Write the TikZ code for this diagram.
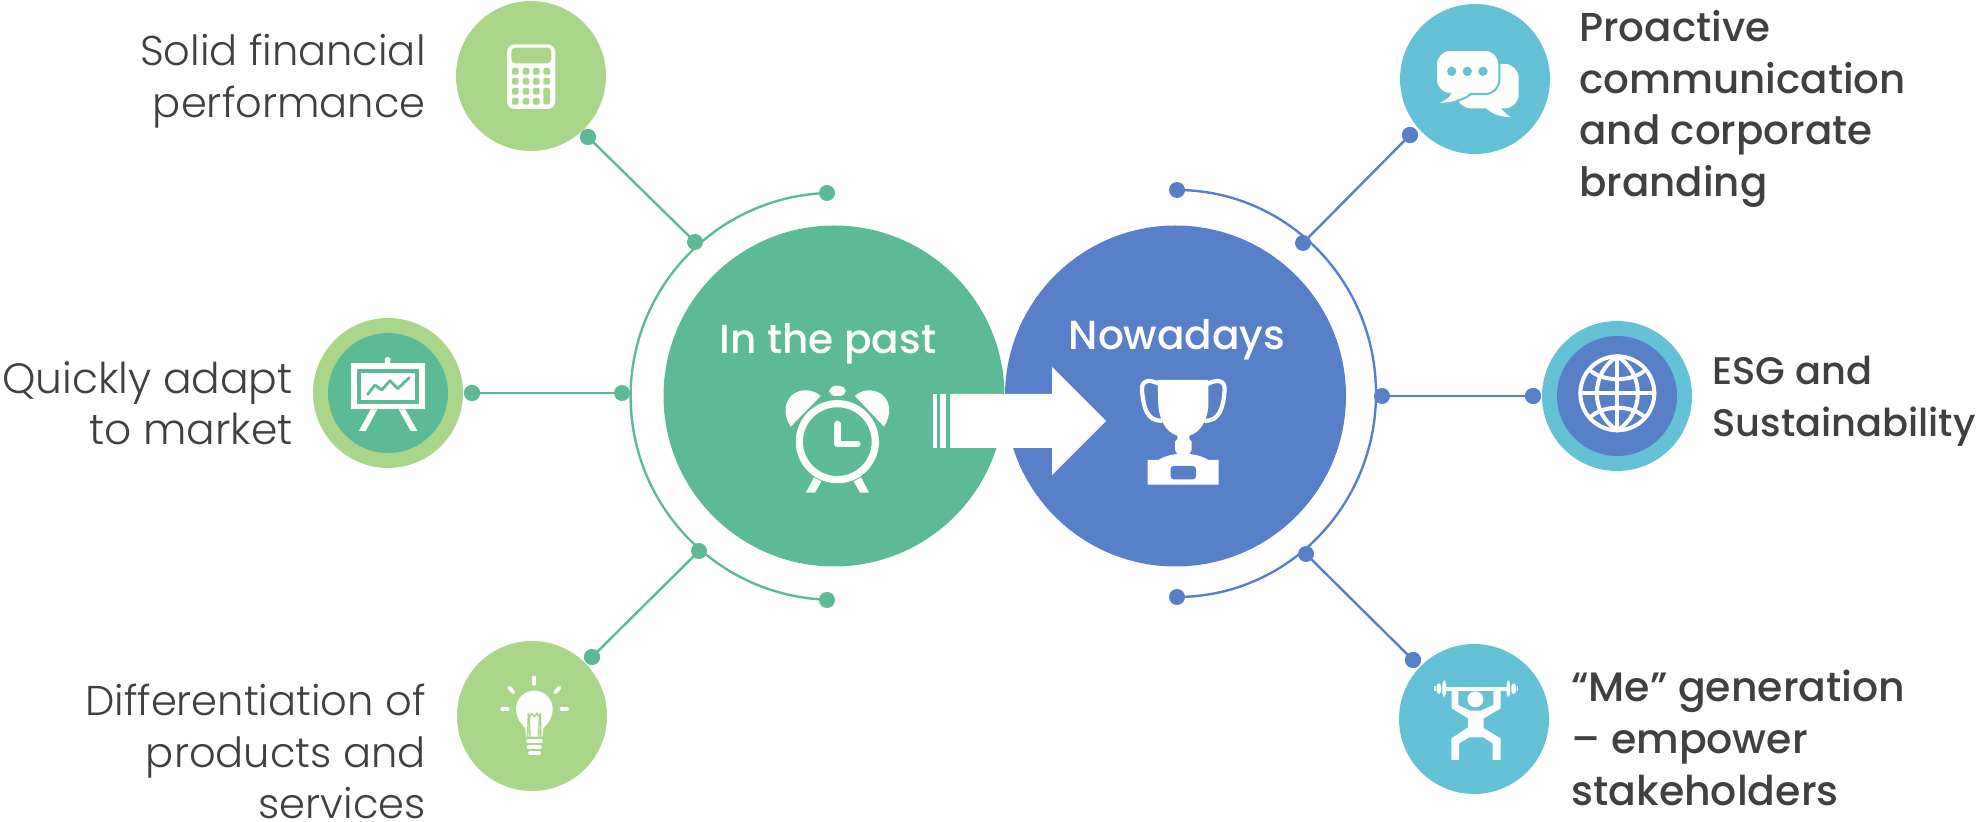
\documentclass[tikz,border=0pt]{standalone}
\usepackage{fontspec}
\setmainfont{Poppins}
\newfontfamily\lightf{Poppins}[UprightFont=* Light]
\newfontfamily\semif{Poppins}[UprightFont=* Medium]
\definecolor{cgreen}{HTML}{5DBA96}
\definecolor{clight}{HTML}{A9D688}
\definecolor{cblue}{HTML}{5880C9}
\definecolor{cteal}{HTML}{65C1D5}
\definecolor{ctext}{HTML}{404040}
\tikzset{
  big/.style={circle,inner sep=0,outer sep=0,minimum size=170.5pt,fill=#1},
  small/.style={circle,inner sep=0,outer sep=0,minimum size=75pt,fill=#1},
  inner/.style={circle,inner sep=0,outer sep=0,minimum size=60pt,fill=#1},
  dot/.style={circle,inner sep=0,outer sep=0,minimum size=8pt,fill=#1},
  link/.style={draw=#1,line width=1.2pt},
  leftlabel/.style={anchor=north east,align=right,text=ctext,inner sep=0,font=\lightf\fontsize{20.8}{25.7}\selectfont},
  rightlabel/.style={anchor=north west,align=left,text=ctext,inner sep=0,font=\semif\fontsize{20.2}{25.8}\selectfont},
  bigtext/.style={text=white,inner sep=0,font=\semif\fontsize{20.3}{25}\selectfont},
  ico/.style={line width=#1,draw=white,line cap=round,line join=round},
}
\begin{document}
\begin{tikzpicture}[x=0.5pt,y=-0.5pt]
\useasboundingbox (0,0) rectangle (1982,822);
% main circles
\node[big=cgreen] (past) at (834,396) {};
\node[big=cblue] (now) at (1175.5,396) {};
% dots
\foreach \n/\p in {ga/{588,137},gb/{695,242},gc/{472,393},gd/{622,393},ge/{592,657},gf/{699,551},gt/{827,193},gu/{827,600}}
  \node[dot=cgreen] (\n) at (\p) {};
\foreach \n/\p in {ba/{1410,135},bb/{1303,243},bc/{1382,396},bd/{1533,396},be/{1413,660},bf/{1306,554},bt/{1177,190},bu/{1177,597}}
  \node[dot=cblue] (\n) at (\p) {};
% arcs
\draw[link=cgreen] (gt.center) arc[start angle=268,end angle=92,radius=203.5];
\draw[link=cblue] (bt.center) arc[start angle=-90,end angle=90,x radius=199,y radius=203.5];
% links
\draw[link=cgreen] (ga) -- (gb);
\draw[link=cgreen] (gc) -- (gd);
\draw[link=cgreen] (ge) -- (gf);
\draw[link=cblue] (ba) -- (bb);
\draw[link=cblue] (bc) -- (bd);
\draw[link=cblue] (be) -- (bf);
% satellites
\node[small=clight] (s1) at (531,76) {};
\node[small=clight] (s2) at (388,393) {};
\node[inner=cgreen] (s2i) at (388,393) {};
\node[small=clight] (s3) at (532,716) {};
\node[small=cteal] (s4) at (1475,79) {};
\node[small=cteal] (s5) at (1617,396) {};
\node[inner=cblue] (s5i) at (1617,396) {};
\node[small=cteal] (s6) at (1474,719) {};
% redraw the dots above satellites
\foreach \n/\p in {ga/{588,137},gc/{472,393},ge/{592,657}} \fill[cgreen] (\p) circle (8);
\foreach \n/\p in {ba/{1410,135},bd/{1533,396},be/{1413,660}} \fill[cblue] (\p) circle (8);
% calculator
\begin{scope}[shift={(440,0)},scale=1/3]
  \fill[white,rounded corners=4pt] (201,133) rectangle (346,327);
  \fill[clight,rounded corners=2pt] (214,143) rectangle (334,190);
  \foreach \x in {216,248,279,310} \foreach \y in {204,234}
    \fill[clight,rounded corners=0.7pt] (\x,\y) rectangle +(20,20);
  \foreach \x in {216,248,279} \foreach \y in {264,294}
    \fill[clight,rounded corners=0.7pt] (\x,\y) rectangle +(20,20);
  \fill[clight,rounded corners=0.7pt] (310,264) rectangle (330,313);
\end{scope}
% easel
\begin{scope}[shift={(300,310)},scale=1/3]
  \fill[white] (263,150) circle (9);
  \fill[white] (255,150) rectangle (271,165);
  \fill[white] (153,160) rectangle (375,298);
  \fill[cgreen] (170,177) rectangle (358,282);
  \fill[white] (183,190) rectangle (345,270);
  \draw[cgreen,line width=1.4pt,line join=round,line cap=round] (203,253) -- (225,225) -- (245,240) -- (270,212) -- (293,236) -- (328,203);
  \fill[white] (212,298) -- (232,298) -- (197,363) -- (177,363) -- cycle;
  \fill[white] (296,298) -- (316,298) -- (352,363) -- (332,363) -- cycle;
\end{scope}
% bulb
\begin{scope}[shift={(440,660)},scale=1/3]
  \fill[white] (258,230) -- (256,205) .. controls (240,190) and (228,170) .. (228,147) arc[start angle=180,end angle=360,radius=55] .. controls (338,170) and (326,190) .. (310,205) -- (308,230) -- cycle;
  \draw[clight,line width=0.7pt] (263,232) -- (265,160) (303,232) -- (301,160) (263,160) -- (269,170) -- (275,160) -- (283,170) -- (291,160) -- (297,170) -- (302,160);
  \draw[clight,line width=0.7pt] (270,232) -- (268,170) (296,232) -- (298,170);
  \foreach \a/\b/\c/\d in {283/52/283/72,187/147/203/147,365/147/381/147,208/83/220/97,358/83/346/97}
    \draw[ico=1.9pt] (\a,\b) -- (\c,\d);
  \draw[ico=1.9pt] (264,243) -- (303,243);
  \draw[ico=1.9pt] (266,262) -- (300,262);
  \draw[ico=1.9pt] (270,279) -- (297,279);
\end{scope}
% chat
\begin{scope}[shift={(1390,0)},scale=1/3]
  \fill[white,rounded corners=7pt] (200,192) rectangle (386,325);
  \fill[white] (285,320) .. controls (305,345) and (335,350) .. (363,352) .. controls (345,340) and (335,330) .. (330,320) -- cycle;
  \filldraw[fill=white,draw=cteal,line width=1pt,rounded corners=7pt] (138,150) rectangle (328,282);
  \fill[white] (185,278) .. controls (180,292) and (165,302) .. (150,308) .. controls (190,308) and (215,298) .. (240,280) -- cycle;
  \draw[cteal,line width=1pt] (200,303) .. controls (218,298) and (232,290) .. (242,284);
  \foreach \x in {185,232,279} \fill[cteal] (\x,214) circle (14);
\end{scope}
% globe
\begin{scope}[shift={(1530,310)},scale=1/3]
  \draw[ico=2pt] (262,250) circle (111);
  \draw[ico=2pt] (151,250) -- (373,250) (262,139) -- (262,361);
  \draw[ico=2pt] (262,139) .. controls (180,190) and (180,310) .. (262,361);
  \draw[ico=2pt] (262,139) .. controls (344,190) and (344,310) .. (262,361);
  \draw[ico=2pt] (185,185) .. controls (225,215) and (300,215) .. (340,185);
  \draw[ico=2pt] (185,318) .. controls (225,285) and (300,285) .. (340,318);
\end{scope}
% lifter
\begin{scope}[shift={(1390,640)},scale=1/3]
  \fill[white] (168,141) rectangle (350,153);
  \fill[white,rounded corners=1.5pt] (157,122) rectangle (168,170);
  \fill[white,rounded corners=1.5pt] (350,122) rectangle (360,170);
  \fill[white,rounded corners=1.5pt] (140,130) rectangle (153,162);
  \fill[white,rounded corners=1.5pt] (364,130) rectangle (378,162);
  \fill[white] (132,139) rectangle (137,152);
  \fill[white] (380,139) rectangle (384,152);
  \fill[white] (256,178) circle (24);
  \fill[white] (185,150) -- (205,150) -- (205,195) -- (240,212) -- (272,212) -- (310,195) -- (310,150) -- (332,150) -- (332,205) -- (281,235) -- (281,265) -- (332,295) -- (332,360) -- (308,360) -- (308,310) -- (280,292) -- (238,292) -- (207,310) -- (207,360) -- (184,360) -- (184,295) -- (234,262) -- (234,235) -- (185,205) -- cycle;
\end{scope}
% clock and trophy
\begin{scope}[shift={(760,370)},scale=1/3]
  \draw[white,line width=3.6pt] (232,215) circle (114);
  \draw[white,line width=3.3pt,line cap=round,line join=round] (232,162) -- (232,222) -- (292,222);
  \fill[white] (92,170) .. controls (70,135) and (70,95) .. (100,72) .. controls (125,55) and (160,58) .. (182,78) -- cycle;
  \fill[white] (372,170) .. controls (394,135) and (394,95) .. (364,72) .. controls (339,55) and (304,58) .. (285,78) -- cycle;
  \fill[white,rounded corners=3pt] (208,48) rectangle (257,78);
  \fill[white] (162,322) -- (184,334) -- (165,368) -- (138,368) -- cycle;
  \fill[white] (303,322) -- (281,334) -- (300,368) -- (327,368) -- cycle;
  \fill[white] (1193,30) -- (1345,30) -- (1345,110) .. controls (1340,150) and (1325,185) .. (1288,197) -- (1288,207) -- (1295,215) -- (1295,240) -- (1288,252) .. controls (1310,254) and (1335,262) .. (1345,270) -- (1376,270) -- (1376,344) -- (1163,344) -- (1163,270) -- (1195,270) .. controls (1205,262) and (1230,254) .. (1252,252) -- (1245,240) -- (1245,215) -- (1252,207) -- (1252,197) .. controls (1215,185) and (1200,150) .. (1195,110) -- cycle;
  \fill[cblue,rounded corners=1.5pt] (1232,288) rectangle (1308,328);
  \draw[white,line width=2.1pt] (1207,152) .. controls (1160,155) and (1150,110) .. (1146,60) .. controls (1144,25) and (1175,30) .. (1198,42);
  \draw[white,line width=2.1pt] (1333,152) .. controls (1380,155) and (1390,110) .. (1394,60) .. controls (1396,25) and (1365,30) .. (1342,42);
\end{scope}
% arrow
\fill[white] (950,394) -- (1052,394) -- (1052,367) -- (1106,421) -- (1052,475) -- (1052,448) -- (950,448) -- cycle;
\fill[white] (933,394) rectangle (936.5,448);
\fill[white] (940,394) rectangle (946,448);
% texts
\node[bigtext] (t1) at (828,344) {In the past};
\node[bigtext] (t2) at (1177,340) {Nowadays};
\node[leftlabel] (l1) at (426,34) {Solid financial\\performance};
\node[leftlabel,font=\lightf\fontsize{21.2}{25.7}\selectfont] (l2) at (293,361) {Quickly adapt\\to market};
\node[leftlabel] (l3) at (426,684) {Differentiation of\\products and\\services};
\node[rightlabel] (r1) at (1579,10) {Proactive\\communication\\and corporate\\branding};
\node[rightlabel,font=\semif\fontsize{19.2}{25.8}\selectfont] (r2) at (1712,356) {ESG and\\Sustainability};
\node[rightlabel,font=\semif\fontsize{20.5}{25.8}\selectfont] (r3) at (1571,670) {“Me” generation\\– empower\\stakeholders};
\end{tikzpicture}
\end{document}
